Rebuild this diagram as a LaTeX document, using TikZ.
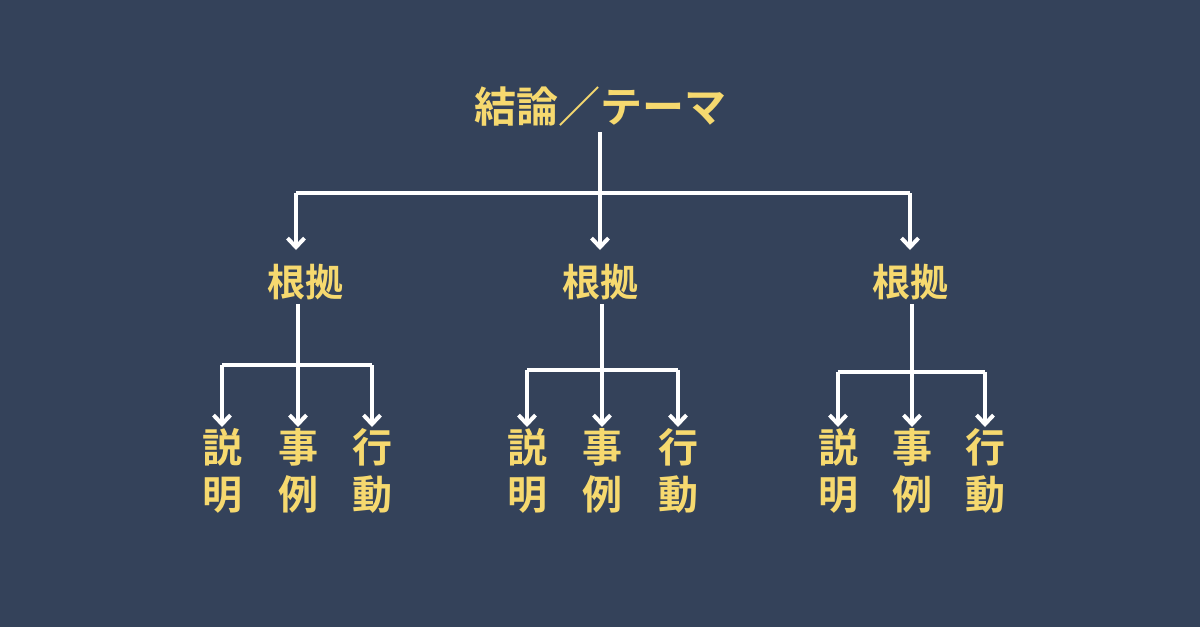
\documentclass[tikz,border=0pt]{standalone}
\usepackage{fontspec}
\newfontfamily\cjk{Noto Sans CJK JP Bold}
\usetikzlibrary{arrows.meta}
\definecolor{bg}{HTML}{34425A}
\definecolor{yl}{HTML}{F6D96F}
\begin{document}
\begin{tikzpicture}[x=1pt,y=-1pt,
  txt/.style={text=yl,font=\cjk\fontsize{38}{44}\selectfont,inner sep=0pt},
  lf/.style={text=yl,font=\cjk\fontsize{40}{47}\selectfont,inner sep=0pt,align=center},
  ln/.style={draw=white,line width=4pt},
  ar/.style={ln,-{Straight Barb[length=9pt,width=17pt,line width=4pt]}}]
\fill[bg] (0,0) rectangle (1200,627);
\useasboundingbox (0,0) rectangle (1200,627);
\node[txt,font=\cjk\fontsize{42}{48}\selectfont] (t) at (600,107) {結論／テーマ};
\coordinate (j) at (600,193);
\coordinate (jl) at (296,193);
\coordinate (jr) at (910,193);
\draw[ln] (600,132) -- (j);
\draw[ln] (jl) -- (jr);
\foreach \n/\x/\tx in {a/296/305,b/600/600,c/910/910}{
  \coordinate (e\n) at (\x,250);
  \node[txt] (r\n) at (\tx,282) {根拠};
  \draw[ar] (\x,193) -- (e\n);
}
\foreach \n/\s/\h/\a/\b/\c in {a/298/365/222/298/372,b/602/370/527/602/678,c/912/372/838/912/985}{
  \coordinate (h\n) at (\s,\h);
  \draw[ln] (\s,304) -- (h\n);
  \draw[ln] (\a,\h) -- (\c,\h);
  \foreach \xx/\t in {\a/説\\明,\b/事\\例,\c/行\\動}{
    \coordinate (z\n\xx) at (\xx,427);
    \draw[ar] (\xx,\h) -- (z\n\xx);
    \node[lf] (l\n\xx) at (\xx,471) {\t};
  }
}
\end{tikzpicture}
\end{document}
